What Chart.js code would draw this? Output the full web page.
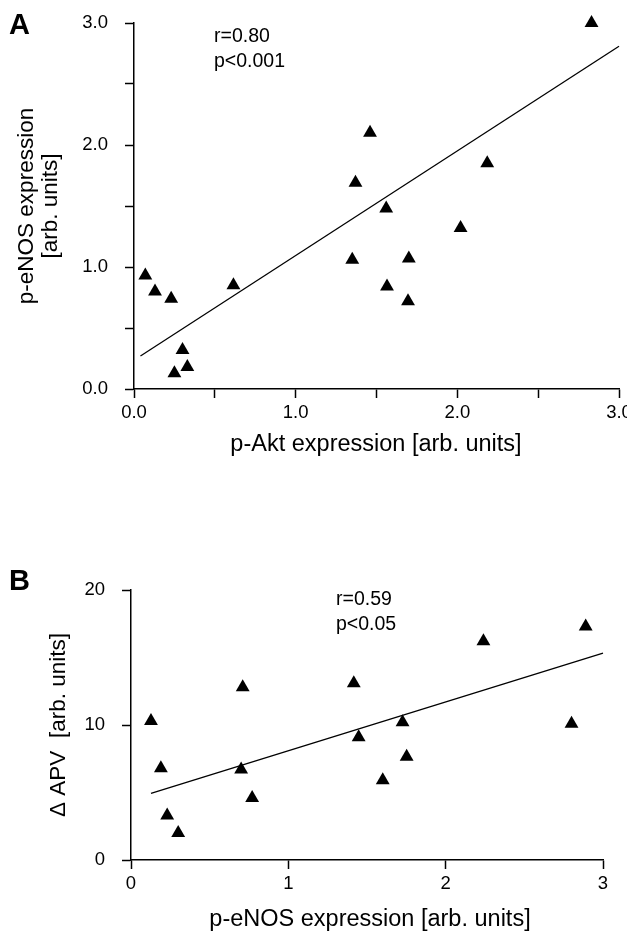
<!DOCTYPE html>
<html>
<head>
<meta charset="utf-8">
<script src="https://cdn.jsdelivr.net/npm/chart.js@4.4.1/dist/chart.umd.min.js"></script>
<style>
  html, body { margin: 0; padding: 0; background: #fff; overflow: hidden; }
  .panel { position: absolute; left: 0; }
  #panelA { top: 0; width: 627px; height: 470px; }
  #panelB { top: 470px; width: 627px; height: 463px; }
</style>
</head>
<body>
<div class="panel" id="panelA"><canvas id="chartA"></canvas></div>
<div class="panel" id="panelB"><canvas id="chartB"></canvas></div>
<script>
// panel A: p-Akt vs p-eNOS
const aktA = [0.07, 0.13, 0.23, 0.615, 0.30, 0.25, 0.33, 1.35, 1.37, 1.46, 1.56, 1.565, 1.70, 1.695, 2.02, 2.185, 2.83];
const enosA = [0.93, 0.80, 0.74, 0.85, 0.32, 0.13, 0.18, 1.06, 1.69, 2.10, 1.48, 0.84, 1.07, 0.72, 1.32, 1.85, 3.00];
const fitAX = [0.04, 3.0];
const fitAY = [0.27, 2.81];
const ticksA = [0, 0.5, 1, 1.5, 2, 2.5, 3];
const labelsA = ["0.0", "", "1.0", "", "2.0", "", "3.0"];

// panel B: p-eNOS vs delta APV
const enosB = [0.127, 0.19, 0.23, 0.30, 0.71, 0.70, 0.77, 1.416, 1.447, 1.60, 1.726, 1.752, 2.24, 2.80, 2.89];
const apvB = [10.3, 6.8, 3.3, 2.0, 12.8, 6.7, 4.6, 13.1, 9.1, 5.9, 10.2, 7.65, 16.2, 10.1, 17.3];
const fitBX = [0.127, 3.0];
const fitBY = [4.94, 15.33];
const ticksBX = [0, 1, 2, 3];
const labelsBX = ["0", "1", "2", "3"];
const ticksBY = [0, 10, 20];
const labelsBY = ["0", "10", "20"];

const FONT = "'Liberation Sans', Arial, sans-serif";

function pairs(xs, ys) {
  return xs.map((x, i) => ({ x: x, y: ys[i] }));
}

// draws panel letter, axis titles and r/p text
const textPlugin = {
  id: "panelText",
  afterDraw(chart, args, opts) {
    const ctx = chart.ctx;
    ctx.save();
    ctx.fillStyle = "#000";
    ctx.textBaseline = "middle";
    // panel letter
    ctx.font = "bold 29px " + FONT;
    ctx.textAlign = "left";
    ctx.fillText(opts.letter, opts.letterX, opts.letterY);
    // stats
    ctx.font = "19.5px " + FONT;
    opts.stats.forEach((s, i) => ctx.fillText(s, opts.statsX, opts.statsY + i * 25));
    // x title
    ctx.font = "23.5px " + FONT;
    ctx.textAlign = "center";
    ctx.fillText(opts.xTitle, opts.xTitleX, opts.xTitleY);
    // y title (rotated)
    ctx.font = "22.5px " + FONT;
    opts.yTitle.forEach((line, i) => {
      ctx.save();
      ctx.translate(opts.yTitleX + i * 24, opts.yTitleY);
      ctx.rotate(-Math.PI / 2);
      ctx.fillText(line, 0, 0);
      ctx.restore();
    });
    ctx.restore();
  }
};

function axis(tickVals, tickLabels, min, max, isY, axisSize) {
  return {
    type: "linear",
    min: min,
    max: max,
    afterBuildTicks(scale) {
      scale.ticks = tickVals.map(v => ({ value: v }));
    },
    afterFit(scale) {
      if (isY) scale.width = axisSize; else scale.height = axisSize;
      scale.paddingLeft = 0;
      scale.paddingRight = 0;
      scale.paddingTop = 0;
      scale.paddingBottom = 0;
    },
    ticks: {
      autoSkip: false,
      maxRotation: 0,
      color: "#000",
      font: { family: FONT, size: 18.5 },
      padding: isY ? 17 : 4,
      callback: (v, i) => tickLabels[i]
    },
    grid: {
      display: true,
      drawOnChartArea: false,
      drawTicks: true,
      tickLength: 9,
      tickWidth: 1.5,
      tickColor: "#000"
    },
    border: { display: true, color: "#000", width: 1.5 }
  };
}

function makeChart(id, pts, fit, xAxis, yAxis, padding, text) {
  return new Chart(document.getElementById(id), {
    type: "scatter",
    data: {
      datasets: [
        {
          data: pts,
          clip: false,
          pointStyle: "triangle",
          pointRadius: 8,
          pointHoverRadius: 8,
          backgroundColor: "#000",
          borderColor: "#000",
          borderWidth: 0
        },
        {
          type: "line",
          data: fit,
          clip: false,
          borderColor: "#000",
          borderWidth: 1.3,
          pointRadius: 0,
          fill: false
        }
      ]
    },
    options: {
      responsive: true,
      maintainAspectRatio: false,
      animation: false,
      events: [],
      layout: { padding: padding },
      plugins: {
        legend: { display: false },
        tooltip: { enabled: false },
        panelText: text
      },
      scales: { x: xAxis, y: yAxis }
    },
    plugins: [textPlugin]
  });
}

// panel A: plot area x 134..619, y 23..389
makeChart("chartA",
  pairs(aktA, enosA),
  pairs(fitAX, fitAY),
  axis(ticksA, labelsA, 0, 3, false, 40),
  axis(ticksA, labelsA, 0, 3, true, 134),
  { left: 0, top: 23, right: 8, bottom: 41 },
  {
    letter: "A", letterX: 9, letterY: 26,
    stats: ["r=0.80", "p<0.001"], statsX: 214, statsY: 37,
    xTitle: "p-Akt expression [arb. units]", xTitleX: 376, xTitleY: 445,
    yTitle: ["p-eNOS expression", "[arb. units]"], yTitleX: 27, yTitleY: 206
  }
);

// panel B: plot area x 131..603, y 590..860 (canvas offset 470)
makeChart("chartB",
  pairs(enosB, apvB),
  pairs(fitBX, fitBY),
  axis(ticksBX, labelsBX, 0, 3, false, 40),
  axis(ticksBY, labelsBY, 0, 20, true, 131),
  { left: 0, top: 120, right: 24, bottom: 33 },
  {
    letter: "B", letterX: 9, letterY: 112,
    stats: ["r=0.59", "p<0.05"], statsX: 336, statsY: 130,
    xTitle: "p-eNOS expression [arb. units]", xTitleX: 370, xTitleY: 450,
    yTitle: ["\u0394 APV  [arb. units]"], yTitleX: 59, yTitleY: 255
  }
);
</script>
</body>
</html>
